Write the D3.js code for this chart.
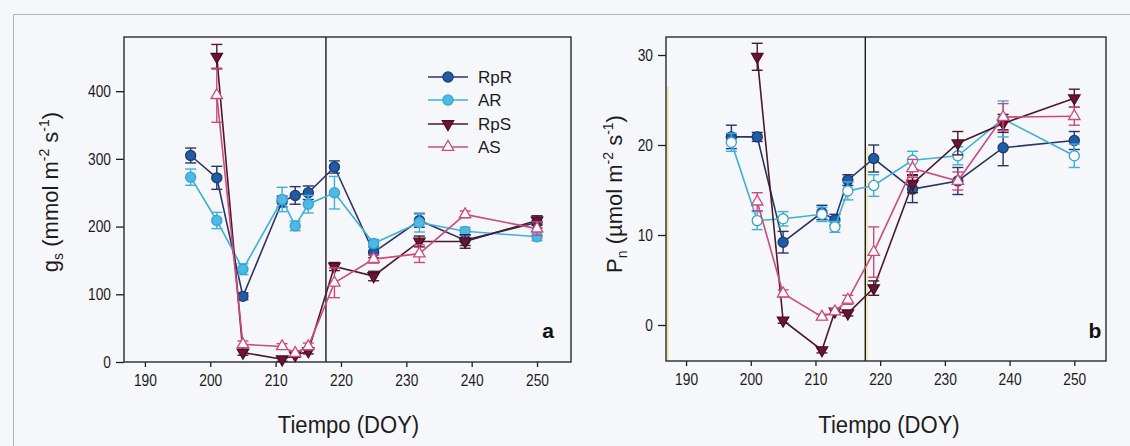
<!DOCTYPE html>
<html>
<head>
<meta charset="utf-8">
<script src="https://cdn.jsdelivr.net/npm/d3@7"></script>
<style>
  body { margin: 0; background: #f6f7fa; }
  svg { display: block; font-family: "Liberation Sans", Arial, sans-serif; }
</style>
</head>
<body>
<svg id="chart" width="1130" height="446"></svg>
<script>
// Sampling days (day of year)
const doy = [197, 201, 205, 211, 213, 215, 219, 225, 232, 239, 250];
const doyTicks = [190, 200, 210, 220, 230, 240, 250];
const separatorDOY = 217.7;

// Stomatal conductance gs (mmol m-2 s-1), mean and SE
const gsRpR   = [305, 272, 97, 237, 246, 250, 288, 162, 209, 180, 206];
const gsRpRse = [11, 17, 5, 8, 13, 10, 9, 8, 10, 8, 8];
const gsAR    = [273, 209, 137, 240, 201, 233, 250, 175, 206, 193, 185];
const gsARse  = [12, 12, 8, 18, 7, 13, 24, 6, 14, 6, 6];
const gsRpS   = [null, 451, 14, 4, 10, 16, 141, 127, 178, 178, 209];
const gsRpSse = [null, 18, 4, 3, 3, 4, 6, 7, 8, 10, 7];
const gsAS    = [null, 394, 26, 23, 13, 23, 117, 152, 160, 218, 197];
const gsASse  = [null, 40, 5, 4, 4, 5, 22, 6, 13, 5, 10];
const gsTicks = [0, 100, 200, 300, 400];

// Net photosynthesis Pn (µmol m-2 s-1), mean and SE
const pnRpR   = [20.9, 20.9, 9.2, 12.5, 11.7, 16.1, 18.5, 15.1, 16.0, 19.7, 20.5];
const pnRpRse = [1.3, 0.5, 1.2, 0.8, 0.6, 0.6, 1.5, 1.5, 1.5, 2.0, 1.0];
const pnAR    = [20.3, 11.6, 11.8, 12.3, 10.9, 14.9, 15.5, 18.3, 18.8, 22.9, 18.8];
const pnARse  = [1.0, 1.0, 0.8, 0.8, 0.6, 1.0, 1.2, 1.0, 1.0, 2.0, 1.3];
const pnRpS   = [null, 29.8, 0.5, -2.8, 1.5, 1.3, 4.1, 15.7, 20.2, 22.4, 25.2];
const pnRpSse = [null, 1.5, 0.3, 0.3, 0.3, 0.3, 0.8, 1.0, 1.3, 1.0, 1.0];
const pnAS    = [null, 13.7, 3.5, 0.9, 1.5, 2.8, 8.1, 17.4, 16.0, 23.1, 23.2];
const pnASse  = [null, 1.0, 0.4, 0.3, 0.3, 0.5, 2.8, 1.0, 1.0, 1.5, 1.0];
const pnTicks = [0, 10, 20, 30];

const seriesNames = ["RpR", "AR", "RpS", "AS"];

// Visual style per treatment
const styles = {
  RpR: { line: "#2a3466", fill: "#1f5ca6", stroke: "#1c3a74", sym: "circle" },
  AR:  { line: "#3cb0df", fill: "#4fb9e6", stroke: "#35a4d4", sym: "circle" },
  RpS: { line: "#4b1a2e", fill: "#6e1432", stroke: "#4a0f22", sym: "down" },
  AS:  { line: "#cf4a78", fill: "#ffffff", stroke: "#d04a78", sym: "up" }
};

const svg = d3.select("#chart");
const ink = "#1c1c1c";

// page frame
svg.append("path")
  .attr("d", "M13.5,446 L13.5,14.5 L1130,14.5")
  .attr("fill", "none").attr("stroke", "#aab2c8").attr("stroke-width", 1);

function symbolPath(kind) {
  if (kind === "circle") return d3.symbol(d3.symbolCircle, 80)();
  return d3.symbol(d3.symbolTriangle, 56)();
}

function drawMarker(g, kind, x, y, fill, stroke) {
  g.append("path")
    .attr("d", symbolPath(kind))
    .attr("transform", `translate(${x},${y})` + (kind === "down" ? " rotate(180)" : ""))
    .attr("fill", fill).attr("stroke", stroke).attr("stroke-width", 1.3);
}

function drawPanel(p) {
  const x = d3.scaleLinear().domain(p.xDomain).range(p.xRange);
  const y = d3.scaleLinear().domain(p.yDomain).range(p.yRange);
  const g = svg.append("g");
  const [left, right] = p.xRange;
  const [bottom, top] = p.yRange;

  // faint yellow artefact lines along the axes of panel b
  if (p.yellow) {
    g.append("line").attr("x1", left + 1.8).attr("x2", left + 1.8)
      .attr("y1", top + 50).attr("y2", bottom)
      .attr("stroke", "#e8df70").attr("stroke-width", 1.2);
    g.append("line").attr("x1", x(separatorDOY) + 1.8).attr("x2", x(separatorDOY) + 1.8)
      .attr("y1", top + 110).attr("y2", bottom)
      .attr("stroke", "#e8df70").attr("stroke-width", 1);
  }

  // x axis
  const xAxis = g.append("g").attr("transform", `translate(0,${bottom})`)
    .call(d3.axisBottom(x).tickValues(doyTicks).tickSize(5).tickPadding(8).tickFormat(d3.format("d")));
  xAxis.select(".domain").remove();
  xAxis.selectAll(".tick line").attr("stroke", ink).attr("stroke-width", 1.3);
  xAxis.selectAll(".tick text").attr("fill", ink).style("font-size", "16px")
    .style("font-family", "Liberation Sans, Arial, sans-serif")
    .attr("transform", "scale(0.86,1)");

  // y axis
  const yAxis = g.append("g").attr("transform", `translate(${left},0)`)
    .call(d3.axisLeft(y).tickValues(p.yTicks).tickSize(8).tickPadding(5).tickFormat(d3.format("d")));
  yAxis.select(".domain").remove();
  yAxis.selectAll(".tick line").attr("stroke", ink).attr("stroke-width", 1.3);
  yAxis.selectAll(".tick text").attr("fill", ink).style("font-size", "16px")
    .style("font-family", "Liberation Sans, Arial, sans-serif")
    .attr("x", -13 / 0.86)
    .attr("transform", "scale(0.86,1)");

  // separator between periods
  g.append("line")
    .attr("x1", x(separatorDOY)).attr("x2", x(separatorDOY))
    .attr("y1", top).attr("y2", bottom)
    .attr("stroke", ink).attr("stroke-width", 1.4);

  // plot frame
  g.append("rect")
    .attr("x", left).attr("y", top)
    .attr("width", right - left).attr("height", bottom - top)
    .attr("fill", "none").attr("stroke", "#2a2a2a").attr("stroke-width", 1.4);

  // series
  seriesNames.forEach(name => {
    const st = styles[name];
    const vals = p.values[name];
    const ses = p.errors[name];
    const pts = doy.map((d, i) => ({ d, v: vals[i], se: ses[i] })).filter(o => o.v != null);
    const fill = (name === "AR" && p.openAR) ? "#ffffff" : st.fill;
    const sg = g.append("g");

    sg.append("path").datum(pts)
      .attr("d", d3.line().x(o => x(o.d)).y(o => y(o.v)))
      .attr("fill", "none").attr("stroke", st.line).attr("stroke-width", 1.6);

    const eb = sg.append("g").attr("stroke", st.line).attr("stroke-width", 1.4);
    pts.forEach(o => {
      const cx = x(o.d), y1 = y(o.v + o.se), y2 = y(o.v - o.se);
      eb.append("line").attr("x1", cx).attr("x2", cx).attr("y1", y1).attr("y2", y2);
      eb.append("line").attr("x1", cx - 5.5).attr("x2", cx + 5.5).attr("y1", y1).attr("y2", y1);
      eb.append("line").attr("x1", cx - 5.5).attr("x2", cx + 5.5).attr("y1", y2).attr("y2", y2);
    });

    pts.forEach(o => drawMarker(sg, st.sym, x(o.d), y(o.v), fill, st.stroke));
  });

  // panel tag
  g.append("text").attr("x", p.tagX).attr("y", 338)
    .attr("text-anchor", "middle").attr("font-weight", "bold")
    .style("font-size", "21px").attr("fill", "#111").text(p.tag);

  // x title
  g.append("text")
    .attr("transform", `translate(${(left + right) / 2 + p.xTitleShift},433) scale(0.92,1)`)
    .attr("text-anchor", "middle").style("font-size", "24px").attr("fill", ink)
    .text("Tiempo (DOY)");

  // y title with sub/superscripts
  const yt = g.append("text")
    .attr("transform", `translate(${p.yTitleX},${p.yTitleY}) rotate(-90)`)
    .attr("text-anchor", "middle").style("font-size", "22px").attr("fill", ink);
  p.yTitle.forEach(part => {
    const t = yt.append("tspan").text(part.t);
    if (part.sub) t.attr("dy", 5).style("font-size", "14px");
    else if (part.sup) t.attr("dy", -9).style("font-size", "14px");
    if (part.back) t.attr("dy", part.back);
  });

  return { x, y, g };
}

// Panel a: stomatal conductance
const pa = drawPanel({
  xDomain: [186.8, 255.2], xRange: [124, 571],
  yDomain: [0, 480], yRange: [362, 37],
  yTicks: gsTicks,
  values: { RpR: gsRpR, AR: gsAR, RpS: gsRpS, AS: gsAS },
  errors: { RpR: gsRpRse, AR: gsARse, RpS: gsRpSse, AS: gsASse },
  openAR: false, yellow: false,
  tag: "a", tagX: 548, xTitleShift: 1,
  yTitleX: 58, yTitleY: 192,
  yTitle: [
    { t: "g" }, { t: "s", sub: true }, { t: " (mmol m", back: -5 },
    { t: "-2", sup: true }, { t: " s", back: 9 }, { t: "-1", sup: true }, { t: ")", back: 9 }
  ]
});

// Panel b: net photosynthesis
drawPanel({
  xDomain: [186.9, 254.9], xRange: [666, 1106],
  yDomain: [-4, 32], yRange: [361, 37],
  yTicks: pnTicks,
  values: { RpR: pnRpR, AR: pnAR, RpS: pnRpS, AS: pnAS },
  errors: { RpR: pnRpRse, AR: pnARse, RpS: pnRpSse, AS: pnASse },
  openAR: true, yellow: true,
  tag: "b", tagX: 1095, xTitleShift: 3,
  yTitleX: 622, yTitleY: 194,
  yTitle: [
    { t: "P" }, { t: "n", sub: true }, { t: " (µmol m", back: -5 },
    { t: "-2", sup: true }, { t: " s", back: 9 }, { t: "-1", sup: true }, { t: ")", back: 9 }
  ]
});

// Legend (panel a)
const legend = svg.append("g");
const legendY = [77, 100, 124, 147];
seriesNames.forEach((name, i) => {
  const st = styles[name];
  const ly = legendY[i];
  legend.append("line").attr("x1", 428).attr("x2", 468).attr("y1", ly).attr("y2", ly)
    .attr("stroke", st.line).attr("stroke-width", 1.6);
  drawMarker(legend, st.sym, 448, ly, st.fill, st.stroke);
  legend.append("text").attr("x", 478).attr("y", ly).attr("dy", "0.36em")
    .style("font-size", "17px").attr("fill", ink).text(name);
});
</script>
</body>
</html>
